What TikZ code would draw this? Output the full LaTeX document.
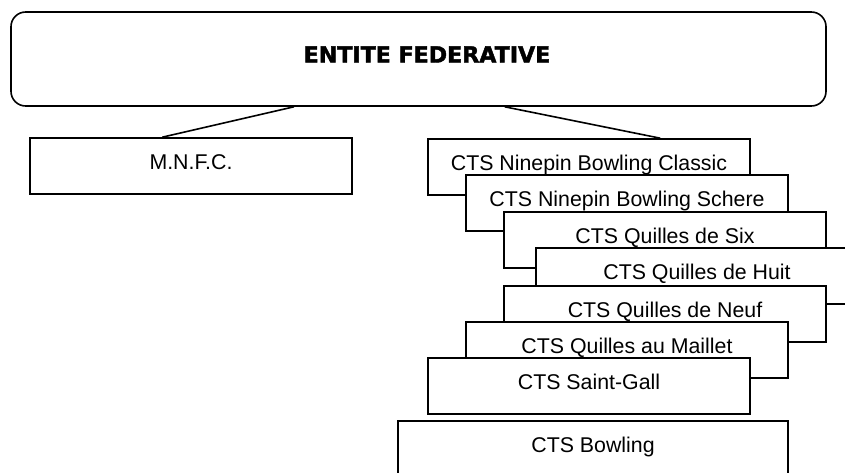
\documentclass[tikz,border=0pt]{standalone}
\usepackage{fontspec}
\setmainfont{Liberation Sans}
\newfontfamily\titlefont[FakeBold=2]{DejaVu Sans}

\begin{document}
\begin{tikzpicture}[x=0.75pt,y=-0.75pt,
  cts/.style={draw,fill=white,line width=1.2pt,inner sep=0pt,
    minimum width=241.5pt,text height=23.25pt,text depth=18.75pt,
    font=\fontsize{16}{19}\selectfont},
  federal/.style={draw,line width=1.2pt,rounded corners=11pt,
    minimum width=611.25pt,minimum height=70.5pt},
  link/.style={line width=1.2pt}]
\useasboundingbox (0,0) rectangle (845,472);
\clip (0,0) rectangle (845,472);

\node[federal] (fed) at (418.5,59) {};
\node[anchor=base,font=\titlefont\bfseries\fontsize{16.6}{19}\selectfont] (title) at (427,62.5) {ENTITE FEDERATIVE};

\node[cts] (mnfc) at (191,166) {M.N.F.C.};

\node[cts] (classic) at (589,167) {CTS Ninepin Bowling Classic};
\node[cts] (schere) at (627,203) {CTS Ninepin Bowling Schere};
\node[cts] (six) at (665,240) {CTS Quilles de Six};
\node[cts] (huit) at (697,276) {CTS Quilles de Huit};
\node[cts] (neuf) at (665,314) {CTS Quilles de Neuf};
\node[cts] (maillet) at (627,350) {CTS Quilles au Maillet};
\node[cts] (stgall) at (589,386) {CTS Saint-Gall};

\node[cts,minimum width=292.5pt] (bowling) at (593,449) {CTS Bowling};

\draw[link] (fed.201) -- (mnfc.135);
\draw[link] (fed.331) -- (classic.22.7);
\end{tikzpicture}
\end{document}
